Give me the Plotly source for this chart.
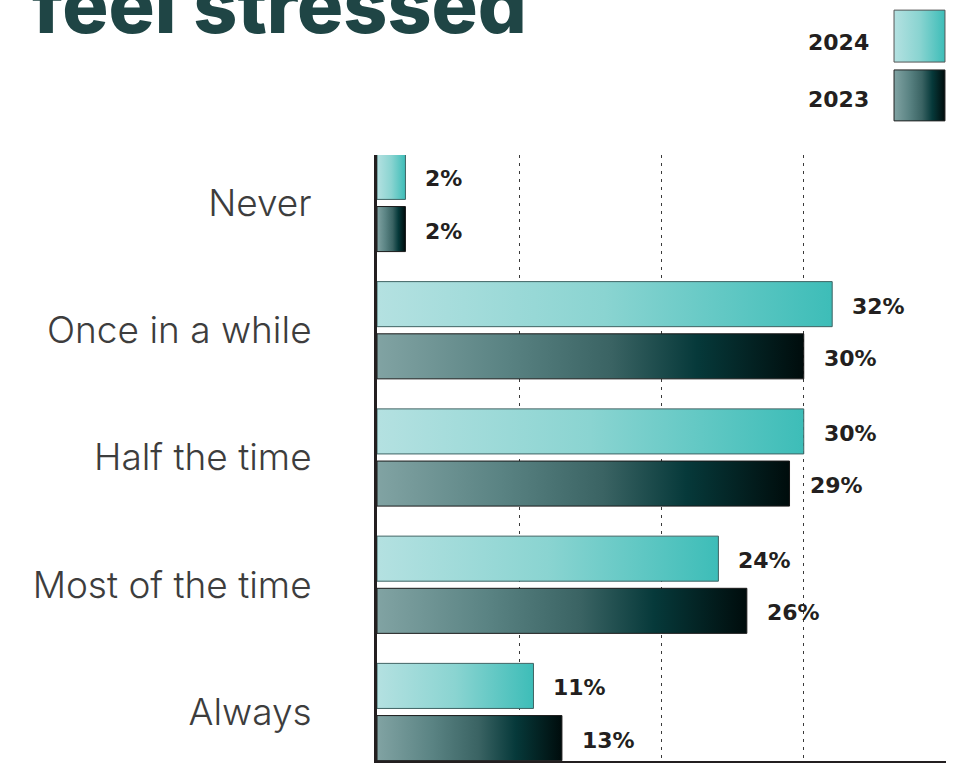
import plotly.graph_objects as go

# ---- data ----
categories = ["Never", "Once in a while", "Half the time", "Most of the time", "Always"]
values_2024 = [2, 32, 30, 24, 11]
values_2023 = [2, 30, 29, 26, 13]
series_names = ["2024", "2023"]
title_text = "feel stressed"

# ---- style ----
W, H = 963, 763
GRAD_2024 = [[0, "#b4e1e1"], [0.5, "#8ad4d1"], [1, "#3dbdb8"]]
GRAD_2023 = [[0, "#81a3a3"], [0.3, "#5a8383"], [0.55, "#3a6363"],
             [0.75, "#06393a"], [1, "#000c0c"]]
EDGE_2024 = "#3f6363"
EDGE_2023 = "#1a1a1a"
BAR_OFFSET = 0.205   # half distance between paired bars (category units)
BAR_HALF = 0.177     # half bar thickness (category units)
TEXT_COLOR = "#231f20"
LABEL_FONT = dict(family="DejaVu Sans", size=22, color=TEXT_COLOR, weight="bold")

fig = go.Figure()

def add_bar(value, center, grad, edge, xa="x", ya="y"):
    y0, y1 = center - BAR_HALF, center + BAR_HALF
    fig.add_trace(go.Scatter(
        x=[0, value, value, 0, 0], y=[y0, y0, y1, y1, y0],
        mode="lines", fill="toself",
        fillgradient=dict(type="horizontal", colorscale=grad),
        line=dict(color=edge, width=1),
        hoverinfo="skip", showlegend=False, xaxis=xa, yaxis=ya))

for i, cat in enumerate(categories):
    add_bar(values_2024[i], i - BAR_OFFSET, GRAD_2024, EDGE_2024)
    add_bar(values_2023[i], i + BAR_OFFSET, GRAD_2023, EDGE_2023)

annotations = []
for i in range(len(categories)):
    for vals, off in ((values_2024, -BAR_OFFSET), (values_2023, BAR_OFFSET)):
        annotations.append(dict(
            x=vals[i], y=i + off, xref="x", yref="y",
            text=f"{vals[i]}%", showarrow=False, xanchor="left", yanchor="middle",
            xshift=18, yshift=-2, font=LABEL_FONT))

# legend swatches (own small axis pair)
for name, grad, edge, yb in ((series_names[0], GRAD_2024, "#555555", (0.531, 1.0)),
                              (series_names[1], GRAD_2023, "#222222", (0.0, 0.46))):
    fig.add_trace(go.Scatter(
        x=[0, 1, 1, 0, 0], y=[yb[0], yb[0], yb[1], yb[1], yb[0]],
        mode="lines", fill="toself",
        fillgradient=dict(type="horizontal", colorscale=grad),
        line=dict(color=edge, width=1),
        hoverinfo="skip", showlegend=False, xaxis="x2", yaxis="y2"))

annotations.append(dict(x=871 / W, y=1 - 42 / H, xref="paper", yref="paper",
                        text=series_names[0], showarrow=False, xanchor="right", yanchor="middle",
                        font=LABEL_FONT))
annotations.append(dict(x=871 / W, y=1 - 100 / H, xref="paper", yref="paper",
                        text=series_names[1], showarrow=False, xanchor="right", yanchor="middle",
                        font=LABEL_FONT))

# cropped title
annotations.append(dict(x=30 / W, y=1 - 54 / H, xref="paper", yref="paper",
                        text=title_text, showarrow=False, xanchor="left", yanchor="bottom",
                        font=dict(family="Inter, Roboto, sans-serif", size=77,
                                  color="#1f4545", weight=800)))

fig.update_layout(
    width=W, height=H,
    margin=dict(l=0, r=0, t=0, b=0),
    paper_bgcolor="white", plot_bgcolor="white",
    showlegend=False,
    annotations=annotations,
    xaxis=dict(domain=[377 / W, 946 / W], range=[0, 40], dtick=10, tick0=0,
               showgrid=True, gridcolor="#3a3a3a", gridwidth=1, griddash="3px,5px",
               zeroline=False, showticklabels=False, ticks="",
               showline=True, linecolor=TEXT_COLOR, linewidth=3, anchor="y"),
    yaxis=dict(domain=[1 - 761 / H, 1 - 155 / H], range=[4.385, -0.377],
               tickvals=list(range(len(categories))), ticktext=categories,
               showgrid=False, zeroline=False, ticks="",
               ticklabelstandoff=55,
               tickfont=dict(family="Inter, Roboto, sans-serif", size=37, color="#3d3d3d", weight=300),
               showline=True, linecolor=TEXT_COLOR, linewidth=3, anchor="x"),
    xaxis2=dict(domain=[893 / W, 946 / W], range=[-0.02, 1.02], visible=False, anchor="y2"),
    yaxis2=dict(domain=[1 - 122 / H, 1 - 9 / H], range=[-0.01, 1.01], visible=False, anchor="x2"),
)

fig.write_html("out.html", config={"displayModeBar": False},
               post_script="document.body.style.margin='0';document.body.style.overflow='hidden';")
